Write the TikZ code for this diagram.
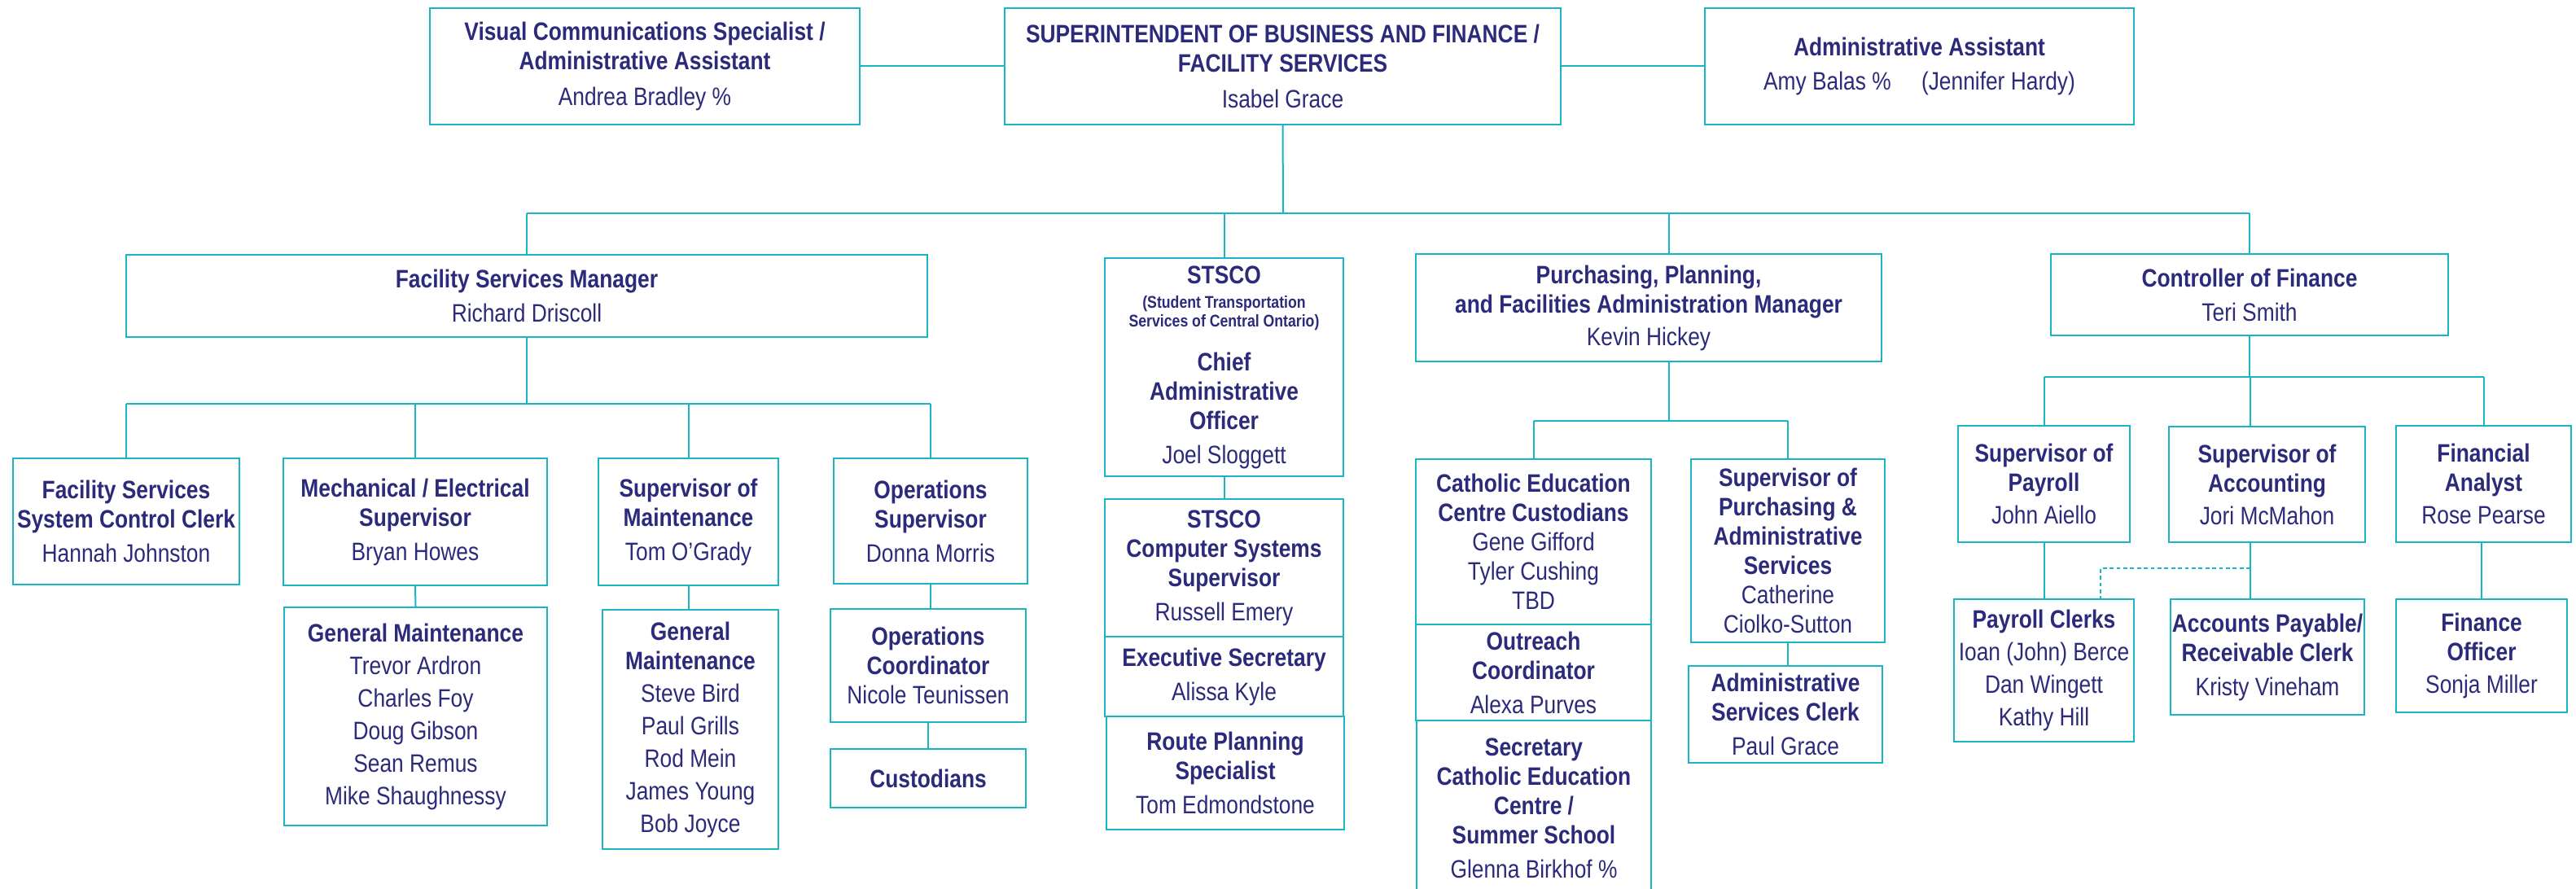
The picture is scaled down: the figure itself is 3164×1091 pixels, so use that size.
\documentclass[tikz,border=0pt]{standalone}
\usepackage{fontspec}
\setmainfont{Liberation Sans}[FakeStretch=0.85]
\definecolor{tl}{RGB}{23,182,196}
\definecolor{nv}{RGB}{44,42,122}
\tikzset{
 box/.style={draw=tl, line width=0.6pt, fill=white, inner sep=0pt, align=center, text=nv, font=\fontsize{7.75}{9}\selectfont},
 conn/.style={draw=tl, line width=0.5pt},
 bus/.style={draw=tl, line width=0.7pt},
 dashconn/.style={draw=tl, line width=0.45pt, dash pattern=on 1.2pt off 0.9pt},
}
\newcommand\hd[1]{\textbf{#1}}
\newcommand\bx[6]{\node[box, minimum width={(#4-#2)*0.25pt}, minimum height={(#5-#3)*0.25pt}] (#1) at ({(#2+#4)/2},{(#3+#5)/2}) {#6};}
\begin{document}
\begin{tikzpicture}[x=0.25pt,y=-0.25pt]
\useasboundingbox (0,0) rectangle (3164,1091);
% top row
\bx{vis}{528}{10}{1056}{153}{\hd{Visual Communications Specialist /}\\\hd{Administrative Assistant}\\[2pt]Andrea Bradley \%}
\bx{sup}{1234}{10}{1917}{153}{\hd{SUPERINTENDENT OF BUSINESS AND FINANCE /}\\\hd{FACILITY SERVICES}\\[2pt]Isabel Grace}
\bx{adm}{2094}{10}{2621}{153}{\hd{Administrative Assistant}\\[1.5pt]Amy Balas \%\hspace{1.2em}(Jennifer Hardy)}
% second row
\bx{fsm}{155}{313}{1139}{414}{\hd{Facility Services Manager}\\[1.5pt]Richard Driscoll}
\bx{stsco}{1357}{317}{1650}{585}{\hd{STSCO}\\[-1.5pt]{\fontsize{5.2}{6}\selectfont\bfseries (Student Transportation}\\[-3.25pt]{\fontsize{5.2}{6}\selectfont\bfseries Services of Central Ontario)}\\[4.5pt]\hd{Chief}\\\hd{Administrative}\\\hd{Officer}\\[1.5pt]Joel Sloggett}
\bx{ppm}{1739}{312}{2311}{444}{\hd{Purchasing, Planning,}\\\hd{and Facilities Administration Manager}\\[1pt]Kevin Hickey}
\bx{cof}{2519}{312}{3007}{412}{\hd{Controller of Finance}\\[1.5pt]Teri Smith}
% facility services branch
\bx{fsc}{16}{563}{294}{718}{\hd{Facility Services}\\\hd{System Control Clerk}\\[1.5pt]Hannah Johnston}
\bx{mes}{348}{563}{672}{719}{\hd{Mechanical / Electrical}\\\hd{Supervisor}\\[1.5pt]Bryan Howes}
\bx{som}{735}{563}{956}{719}{\hd{Supervisor of}\\\hd{Maintenance}\\[1.5pt]Tom O’Grady}
\bx{ops}{1024}{563}{1262}{717}{\hd{Operations}\\\hd{Supervisor}\\[1.5pt]Donna Morris}
\bx{gma}{349}{746}{672}{1014}{\hd{General Maintenance}\\[1pt]Trevor Ardron\\[1pt]Charles Foy\\[1pt]Doug Gibson\\[1pt]Sean Remus\\[1pt]Mike Shaughnessy}
\bx{gmb}{740}{749}{956}{1043}{\hd{General}\\\hd{Maintenance}\\[1pt]Steve Bird\\[1pt]Paul Grills\\[1pt]Rod Mein\\[1pt]James Young\\[1pt]Bob Joyce}
\bx{opc}{1020}{748}{1260}{887}{\hd{Operations}\\\hd{Coordinator}\\Nicole Teunissen}
\bx{cus}{1020}{920}{1260}{992}{\hd{Custodians}}
% STSCO column
\bx{css}{1357}{613}{1650}{782}{\hd{STSCO}\\\hd{Computer Systems}\\\hd{Supervisor}\\[1.5pt]Russell Emery}
\bx{exs}{1357}{782}{1650}{880}{\hd{Executive Secretary}\\[1.5pt]Alissa Kyle}
\bx{rps}{1359}{880}{1651}{1019}{\hd{Route Planning}\\\hd{Specialist}\\[1.5pt]Tom Edmondstone}
% purchasing branch
\bx{cec}{1739}{564}{2028}{767}{\hd{Catholic Education}\\\hd{Centre Custodians}\\Gene Gifford\\Tyler Cushing\\TBD}
\bx{ouc}{1739}{767}{2028}{885}{\hd{Outreach}\\\hd{Coordinator}\\[1.5pt]Alexa Purves}
\bx{sec}{1740}{885}{2028}{1100}{\hd{Secretary}\\\hd{Catholic Education}\\\hd{Centre /}\\\hd{Summer School}\\[1.5pt]Glenna Birkhof \%}
\bx{spa}{2077}{564}{2315}{789}{\hd{Supervisor of}\\\hd{Purchasing \&}\\\hd{Administrative}\\\hd{Services}\\Catherine\\Ciolko-Sutton}
\bx{asc}{2074}{818}{2312}{937}{\hd{Administrative}\\\hd{Services Clerk}\\[1.5pt]Paul Grace}
% finance branch
\bx{spy}{2405}{523}{2616}{666}{\hd{Supervisor of}\\\hd{Payroll}\\[1pt]John Aiello}
\bx{sac}{2664}{524}{2905}{666}{\hd{Supervisor of}\\\hd{Accounting}\\[1pt]Jori McMahon}
\bx{fan}{2943}{523}{3158}{666}{\hd{Financial}\\\hd{Analyst}\\[1pt]Rose Pearse}
\bx{pyc}{2400}{736}{2621}{911}{\hd{Payroll Clerks}\\[1pt]Ioan (John) Berce\\[1pt]Dan Wingett\\[1pt]Kathy Hill}
\bx{apc}{2666}{736}{2904}{878}{\hd{Accounts Payable/}\\\hd{Receivable Clerk}\\[1.5pt]Kristy Vineham}
\bx{fio}{2943}{736}{3153}{875}{\hd{Finance}\\\hd{Officer}\\[1pt]Sonja Miller}
% bus coordinates
\coordinate (b1) at (1576,262);
\coordinate (b2) at (647,496);
\coordinate (b3) at (2050,517);
\coordinate (b4) at (2764,463);
\coordinate (ppmd) at (2050,444);
\coordinate (sacd) at (2764,666);
\coordinate (apcd) at (2764,736);
\coordinate (dsh) at (2580,698);
% top connectors
\draw[conn] (vis.east) -- (sup.west);
\draw[conn] (sup.east) -- (adm.west);
\draw[conn] (sup.south) -- (b1);
\draw[bus] (fsm.north |- b1) -- (cof.north |- b1);
\draw[conn] (fsm.north) -- (fsm.north |- b1);
\draw[conn] (stsco.north) -- (stsco.north |- b1);
\draw[conn] (ppm.north -| ppmd) -- (ppmd |- b1);
\draw[conn] (cof.north) -- (cof.north |- b1);
% facility services
\draw[conn] (fsm.south) -- (b2);
\draw[bus] (fsc.north |- b2) -- (ops.north |- b2);
\draw[conn] (fsc.north) -- (fsc.north |- b2);
\draw[conn] (mes.north) -- (mes.north |- b2);
\draw[conn] (som.north) -- (som.north |- b2);
\draw[conn] (ops.north) -- (ops.north |- b2);
\draw[conn] (mes.south) -- (gma.north);
\draw[conn] (som.south) -- (som.south |- gmb.north);
\draw[conn] (ops.south) -- (ops.south |- opc.north);
\draw[conn] (opc.south) -- (cus.north);
% STSCO
\draw[conn] (stsco.south) -- (css.north);
% purchasing
\draw[conn] (ppmd) -- (b3);
\draw[bus] (cec.north |- b3) -- (spa.north |- b3);
\draw[conn] (cec.north) -- (cec.north |- b3);
\draw[conn] (spa.north) -- (spa.north |- b3);
\draw[conn] (spa.south) -- (spa.south |- asc.north);
% finance
\draw[conn] (cof.south) -- (cof.south |- b4);
\draw[bus] (spy.north |- b4) -- (fan.north |- b4);
\draw[conn] (spy.north) -- (spy.north |- b4);
\draw[conn] (sacd |- sac.north) -- (b4);
\draw[conn] (fan.north) -- (fan.north |- b4);
\draw[conn] (spy.south) -- (pyc.north);
\draw[conn] (sacd) -- (apcd);
\draw[conn] (fan.south -| fio.north) -- (fio.north);
\draw[dashconn] (sacd |- dsh) -- (dsh) -- (dsh |- pyc.north);
\end{tikzpicture}
\end{document}
